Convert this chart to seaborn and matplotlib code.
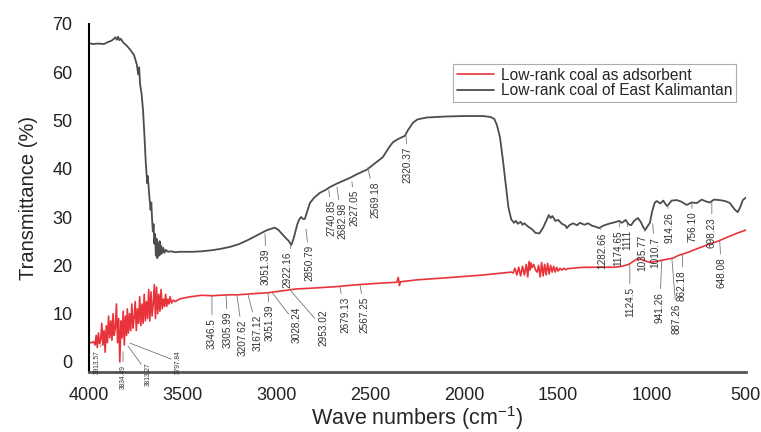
import numpy as np
import pandas as pd
import matplotlib
matplotlib.use("Agg")
import matplotlib.pyplot as plt
import seaborn as sns

# red spectrum: low-rank coal as adsorbent (wave number, transmittance)
wn_red = [4000, 3985, 3975, 3968, 3962, 3956, 3950, 3944, 3938, 3932, 3926, 3920, 3914, 3908,
          3902, 3896, 3890, 3884, 3878, 3872, 3866, 3860, 3854, 3848, 3842, 3836, 3830, 3824,
          3818, 3812, 3806, 3800, 3796, 3790, 3784, 3778, 3772, 3766, 3760, 3754, 3748, 3742,
          3736, 3730, 3724, 3718, 3712, 3706, 3700, 3694, 3688, 3682, 3676, 3670, 3664, 3658,
          3652, 3646, 3640, 3634, 3628, 3622, 3616, 3610, 3604, 3598, 3592, 3586, 3580, 3574,
          3568, 3560, 3550, 3540, 3520, 3500, 3460, 3400, 3346, 3306, 3250, 3207, 3167, 3100,
          3051, 3028, 2953, 2900, 2800, 2679, 2567, 2450, 2360, 2352, 2346, 2340, 2250, 2100,
          2000, 1900, 1800, 1750, 1740, 1730, 1720, 1710, 1700, 1690, 1680, 1670, 1662, 1655,
          1650, 1645, 1640, 1630, 1620, 1612, 1604, 1596, 1588, 1580, 1572, 1564, 1556, 1548,
          1540, 1532, 1524, 1516, 1508, 1500, 1490, 1480, 1470, 1460, 1450, 1400, 1350, 1283,
          1200, 1175, 1150, 1124, 1100, 1080, 1050, 1036, 1010, 980, 941, 900, 887, 862, 800,
          756, 700, 648, 600, 550, 500]
t_red = [4.0, 4.0, 4.2, 3.5, 5.5, 3.0, 6.0, 3.8, 4.5, 8.0, 3.5, 6.5, 2.0, 7.5,
         4.0, 9.5, 5.0, 8.5, 4.5, 10.0, 5.5, 7.0, 12.0, 4.0, 9.0, 0.0, 8.5, 5.0,
         10.5, 3.5, 9.5, 5.5, 11.0, 6.0, 10.0, 6.5, 12.0, 7.0, 9.0, 12.5, 6.5, 11.0,
         8.0, 13.5, 7.5, 12.0, 8.0, 14.0, 8.5, 12.5, 9.0, 15.0, 8.5, 14.5, 9.5, 12.0,
         16.0, 9.0, 15.5, 10.0, 14.0, 10.5, 15.0, 11.0, 13.0, 11.5, 14.0, 11.5, 13.0, 12.0,
         13.5, 12.2, 12.8, 12.5, 13.0, 13.2, 13.5, 13.8, 13.7, 13.8, 13.9, 13.9, 14.0, 14.2,
         14.3, 14.4, 14.8, 15.1, 15.3, 15.6, 16.0, 16.3, 16.5, 17.5, 15.8, 16.6, 17.0, 17.4,
         17.7, 18.0, 18.4, 18.6, 18.4, 19.4, 18.0, 19.6, 17.8, 19.8, 18.0, 20.2, 17.6, 20.8,
         19.0, 20.5, 19.5, 20.2, 19.0, 18.6, 20.0, 17.6, 20.6, 17.8, 20.2, 18.0, 20.4, 18.2,
         20.0, 18.6, 19.8, 18.6, 19.6, 18.8, 19.4, 19.0, 19.4, 19.1, 19.3, 19.5, 19.6, 19.6,
         19.6, 19.7, 19.9, 20.2, 20.8, 21.3, 21.2, 20.9, 20.6, 20.8, 21.1, 21.4, 21.5, 22.0, 22.8,
         23.5, 24.3, 25.0, 25.8, 26.6, 27.3]

# gray spectrum: low-rank coal of East Kalimantan
wn_gray = [4000, 3980, 3950, 3920, 3900, 3880, 3870, 3860, 3852, 3845, 3838, 3830, 3820, 3800,
           3780, 3760, 3745, 3738, 3733, 3728, 3720, 3712, 3705, 3698, 3690, 3687, 3683, 3678,
           3672, 3668, 3664, 3660, 3656, 3652, 3648, 3644, 3640, 3636, 3632, 3628, 3624, 3620,
           3615, 3610, 3604, 3598, 3590, 3580, 3560, 3540, 3520, 3500, 3450, 3400, 3350, 3300,
           3250, 3200, 3150, 3100, 3051, 3010, 2990, 2960, 2935, 2922, 2910, 2900, 2890, 2880,
           2870, 2860, 2850, 2823, 2800, 2770, 2740, 2716, 2680, 2650, 2610, 2570, 2519, 2480,
           2434, 2400, 2380, 2350, 2317, 2300, 2274, 2250, 2200, 2100, 2000, 1900, 1860, 1840,
           1826, 1810, 1795, 1780, 1765, 1750, 1735, 1725, 1715, 1700, 1690, 1680, 1660, 1640,
           1620, 1600, 1580, 1560, 1550, 1540, 1530, 1515, 1500, 1480, 1460, 1454, 1440, 1420,
           1400, 1384, 1360, 1340, 1320, 1300, 1283, 1260, 1230, 1209, 1190, 1175, 1160, 1140,
           1125, 1111, 1095, 1075, 1060, 1045, 1036, 1025, 1011, 1000, 985, 974, 955, 940,
           921, 914, 895, 868, 845, 815, 790, 761, 735, 710, 692, 670, 639, 610, 585, 560,
           543, 530, 516, 500]
t_gray = [66.0, 65.8, 65.9, 65.8, 66.2, 66.5, 66.8, 67.2, 66.7, 67.3, 66.6, 66.9, 66.2, 65.5,
          64.6, 63.5, 61.5, 59.5, 61.0, 57.5, 55.5, 52.0, 47.0, 41.5, 37.0, 38.5, 36.5, 34.0,
          31.5, 33.0, 29.5, 27.0, 28.5, 24.5, 26.5, 22.0, 25.5, 21.5, 24.5, 22.0, 25.0, 22.2,
          24.0, 22.5, 23.6, 22.6, 23.2, 22.8, 22.9, 22.7, 22.8, 22.8, 22.8, 22.9, 23.1, 23.4,
          23.8, 24.4, 25.3, 26.3, 27.3, 27.8, 27.3, 26.0, 25.0, 24.2, 25.5, 27.0, 28.5, 29.5,
          30.0, 29.6, 29.6, 32.9, 34.0, 35.0, 35.6, 36.2, 36.9, 37.4, 38.1, 38.9, 39.8, 41.0,
          42.4, 44.5, 45.5, 46.2, 46.8, 48.0, 49.5, 50.2, 50.6, 50.8, 50.9, 50.9, 50.7, 50.3,
          49.0, 46.5, 42.0, 37.0, 32.0, 29.5, 28.8, 29.2, 28.6, 29.0, 28.4, 28.7, 28.0, 27.5,
          26.7, 26.6, 27.8, 29.5, 30.4, 29.8, 30.2, 29.2, 29.4, 28.6, 28.2, 27.7, 28.3, 28.7,
          28.3, 28.8, 28.4, 28.7, 28.2, 28.0, 27.7, 28.2, 28.6, 28.8, 29.0, 29.2, 28.8, 29.4,
          28.5, 28.3, 29.2, 29.8, 29.0, 27.8, 27.3, 28.0, 28.8, 31.0, 33.0, 33.3, 32.8, 33.4,
          32.3, 32.5, 33.4, 33.5, 33.2, 32.5, 33.0, 32.9, 33.6, 33.2, 33.0, 33.6, 33.5, 33.3, 32.9, 31.6,
          31.0, 32.0, 33.5, 34.0]

# peak labels: text, label x, label top y, peak x, peak y
labels_gray = [
    ("3051.39", 3057, 23.4, 3062, 26.5), ("2922.16", 2940, 22.8, 2924, 24.4),
    ("2850.79", 2823, 24.2, 2844, 27.5), ("2740.85", 2706, 33.5, 2722, 35.6),
    ("2682.98", 2652, 32.9, 2679, 36.2), ("2627.05", 2583, 35.6, 2599, 37.3),
    ("2569.18", 2476, 37.3, 2514, 40.2), ("2320.37", 2301, 44.5, 2311, 47.0),
    ("1282.66", 1267, 26.7, 1273, 28.0), ("1174.65", 1182, 27.3, 1171, 29.0),
    ("1111", 1134, 27.3, 1129, 28.5), ("1035.77", 1049, 26.3, 1038, 27.4),
    ("1010.7", 985, 25.9, 996, 28.6), ("914.26", 905, 31.1, 916, 32.5),
    ("756.10", 783, 31.1, 788, 32.9), ("698.23", 681, 30.0, 681, 33.1),
]
labels_red = [
    ("3346.5", 3345, 9.1, 3345, 13.7), ("3305.99", 3260, 10.4, 3270, 13.8),
    ("3207.62", 3180, 8.7, 3212, 13.9), ("3167.12", 3100, 9.7, 3153, 14.0),
    ("3051.39", 3036, 11.8, 3046, 14.3), ("3028.24", 2892, 11.4, 3025, 14.4),
    ("2953.02", 2753, 10.8, 2929, 14.9), ("2679.13", 2636, 13.5, 2663, 15.6),
    ("2567.25", 2530, 13.5, 2556, 16.0), ("1124.5", 1118, 15.5, 1118, 20.2),
    ("941.26", 958, 14.5, 948, 21.1), ("887.26", 868, 12.2, 894, 21.5),
    ("862.18", 841, 19.0, 836, 22.2), ("648.08", 628, 21.7, 639, 25.0),
]
labels_small = [
    ("3913.57", 3957, 2.5, 3936, 3.6), ("3834.49", 3819, -0.6, 3819, 2.1),
    ("3813.27", 3686, 0.0, 3792, 3.3), ("3797.84", 3526, 2.5, 3782, 3.9),
]

red_df = pd.DataFrame({"wn": wn_red, "T": t_red})
gray_df = pd.DataFrame({"wn": wn_gray, "T": t_gray})

sns.set_style("white")
plt.rcParams['font.family'] = ['Liberation Sans', 'DejaVu Sans']
plt.rcParams['mathtext.fontset'] = 'custom'
plt.rcParams['mathtext.rm'] = 'Liberation Sans'
plt.rcParams['mathtext.it'] = 'Liberation Sans'

fig = plt.figure(figsize=(7.61, 4.32), dpi=100)
ax = fig.add_axes([0.117, 0.139, 0.863, 0.806])

RED = "#e8333a"
GRAY = "#4d4d4d"
sns.lineplot(data=red_df, x="wn", y="T", color=RED, lw=1.2, ax=ax,
             label="Low-rank coal as adsorbent")
sns.lineplot(data=gray_df, x="wn", y="T", color=GRAY, lw=1.3, ax=ax,
             label="Low-rank coal of East Kalimantan")

#peak labels with leader lines
def put_labels(items, size):
    for txt, xt, yt, xp, yp in items:
        ax.annotate(txt, xy=(xp, yp), xytext=(xt, yt), rotation=90,
                    ha="center", va="top", fontsize=size, color="#333333",
                    annotation_clip=False,
                    arrowprops=dict(arrowstyle="-", color="#777777", lw=0.6,
                                    shrinkA=0, shrinkB=0))

put_labels(labels_gray, 7.2)
put_labels(labels_red, 7.2)
put_labels(labels_small, 4.8)

ax.set_xlim(4000, 500)
ax.set_ylim(-2.07, 70)
ax.set_xticks(np.arange(4000, 499, -500))
ax.set_yticks(np.arange(0, 71, 10))
ax.tick_params(axis="both", length=0, labelsize=13, colors="#222222")
ax.tick_params(axis="x", pad=11)
ax.tick_params(axis="y", pad=12)
ax.set_xlabel("Wave numbers (cm$^{-1}$)", fontsize=15.5, labelpad=0)
ax.set_ylabel("Transmittance (%)", fontsize=14.5, labelpad=10)

for s in ["top", "right"]:
    ax.spines[s].set_visible(False)
ax.spines["left"].set_color("black")
ax.spines["left"].set_linewidth(1.5)
ax.spines["bottom"].set_color("#555555")
ax.spines["bottom"].set_linewidth(2)

leg = ax.legend(loc="upper right", bbox_to_anchor=(0.985, 0.885), fontsize=11.2,
                frameon=True, fancybox=False, handlelength=2.4, labelspacing=0.05,
                borderpad=0.25, handletextpad=0.4, borderaxespad=0)
leg.get_frame().set_edgecolor("#999999")
leg.get_frame().set_linewidth(0.8)

fig.savefig("out.png", dpi=100)
